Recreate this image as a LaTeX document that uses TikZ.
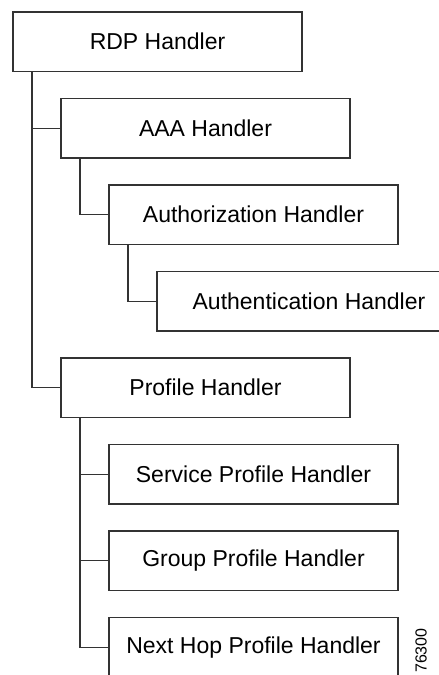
\documentclass[tikz,border=0pt]{standalone}
\usepackage{fontspec}
\setmainfont{Liberation Sans}
\definecolor{linegray}{HTML}{333333}
\begin{document}
\begin{tikzpicture}[x=1pt,y=-1pt,
  box/.style={draw=linegray, line width=1.1pt, fill=white, rectangle, anchor=north west,
    minimum height=59.5pt, inner sep=0pt, outer sep=0pt,
    font=\fontsize{23}{26}\selectfont, text=black},
  conn/.style={draw=linegray, line width=1.1pt}]
\useasboundingbox (0,0) rectangle (439,675);
\clip (0,0) rectangle (439,675);
\node[box, minimum width=289pt] (rdp)  at (13,12)    {RDP Handler};
\node[box, minimum width=289pt] (aaa)  at (61,98.5)  {AAA Handler};
\node[box, minimum width=289pt] (authz) at (109,185) {Authorization Handler};
\node[box, minimum width=304pt] (authn) at (157,271.5) {Authentication Handler};
\node[box, minimum width=289pt] (prof) at (61,358)   {Profile Handler};
\node[box, minimum width=289pt] (serv) at (109,444.5) {Service Profile Handler};
\node[box, minimum width=289pt] (grp)  at (109,531)  {Group Profile Handler};
\node[box, minimum width=289pt] (nhop) at (109,617.5) {Next Hop Profile Handler};
\coordinate (s1) at ([xshift=19pt]rdp.south west);
\coordinate (s2) at ([xshift=19pt]aaa.south west);
\coordinate (s3) at ([xshift=19pt]authz.south west);
\coordinate (s4) at ([xshift=19pt]prof.south west);
\draw[conn] (s1) |- (prof.west);
\draw[conn] (aaa.west) -- (aaa.west -| s1);
\draw[conn] (s2) |- (authz.west);
\draw[conn] (s3) |- (authn.west);
\draw[conn] (s4) |- (nhop.west);
\draw[conn] (serv.west) -- (serv.west -| s4);
\draw[conn] (grp.west) -- (grp.west -| s4);
\node[rotate=90, anchor=west, inner sep=0pt, font=\fontsize{16}{18}\selectfont] (fig) at (421,673) {76300};
\end{tikzpicture}
\end{document}
